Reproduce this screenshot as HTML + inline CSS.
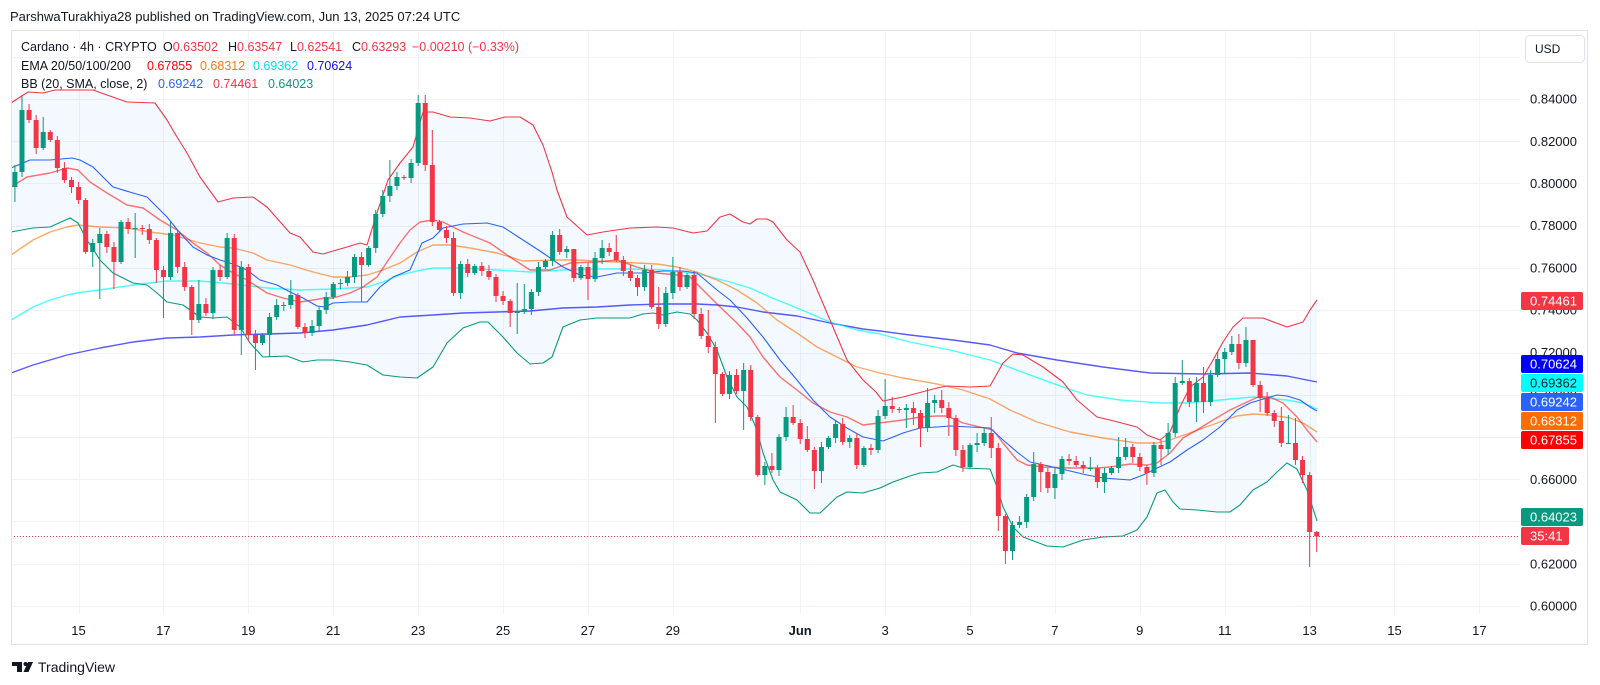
<!DOCTYPE html>
<html><head><meta charset="utf-8">
<style>
html,body{margin:0;padding:0;background:#fff;}
body{width:1600px;height:685px;overflow:hidden;}
svg{display:block;font-family:"Liberation Sans",sans-serif;}
</style></head>
<body>
<svg id="c" width="1600" height="685" viewBox="0 0 1600 685" xmlns="http://www.w3.org/2000/svg">
<rect x="0" y="0" width="1600" height="685" fill="#ffffff"/>
<text x="10" y="21" font-size="13" fill="#131722">ParshwaTurakhiya28 published on TradingView.com, Jun 13, 2025 07:24 UTC</text>
<g id="grid"></g>
<g id="fill"></g>
<g id="lines"></g>
<g id="candles"></g>
<line x1="11" y1="536.5" x2="1520" y2="536.5" stroke="#F23645" stroke-width="1" stroke-dasharray="1,2"/>
<rect x="11.5" y="30.5" width="1576" height="614" fill="none" stroke="#e0e3eb" stroke-width="1"/>
<g font-size="12.5" fill="#131722">
<text x="21" y="51">Cardano · 4h · CRYPTO</text>
<text x="163" y="51">O<tspan fill="#F23645">0.63502</tspan></text>
<text x="228" y="51">H<tspan fill="#F23645">0.63547</tspan></text>
<text x="290" y="51">L<tspan fill="#F23645">0.62541</tspan></text>
<text x="352" y="51">C<tspan fill="#F23645">0.63293</tspan></text>
<text x="412" y="51" fill="#F23645">−0.00210 (−0.33%)</text>
<text x="21" y="70">EMA 20/50/100/200</text>
<text x="147" y="70" fill="#FF0000">0.67855</text>
<text x="200" y="70" fill="#FF7A00">0.68312</text>
<text x="253" y="70" fill="#00E0F0">0.69362</text>
<text x="307" y="70" fill="#1010F0">0.70624</text>
<text x="21" y="88">BB (20, SMA, close, 2)</text>
<text x="158" y="88" fill="#2962FF">0.69242</text>
<text x="213" y="88" fill="#F23645">0.74461</text>
<text x="268" y="88" fill="#089981">0.64023</text>
</g>
<rect x="1525.5" y="35.5" width="59" height="27" rx="4" fill="#fff" stroke="#e0e3eb"/>
<text x="1535" y="53" font-size="12" fill="#131722">USD</text>
<g id="axis" font-size="13" fill="#131722"></g>
<g id="tags" font-size="13"></g>
<g id="time" font-size="13" fill="#131722" text-anchor="middle"></g>
<g fill="#131722">
<rect x="12" y="662" width="10" height="4"/>
<rect x="17" y="662" width="5" height="10"/>
<circle cx="25.5" cy="664" r="2"/>
<polygon points="28,662 33,662 28.5,672 23.5,672"/>
</g>
<text x="38" y="672" font-size="14" fill="#131722">TradingView</text>
</svg>
<script>
(function(){
var NS="http://www.w3.org/2000/svg";
function Y(p){return 99+(0.84-p)*2112.5;}
var g=document.getElementById('grid'),s='';
// horizontal grid
for(var k=0;k<=13;k++){var p=0.86-k*0.02;var y=Y(p);s+='<line x1="11" x2="1520" y1="'+(Math.round(y)+0.5)+'" y2="'+(Math.round(y)+0.5)+'" stroke="#f0f3fa" stroke-width="1"/>';}
var days=[15,17,19,21,23,25,27,29,32,34,36,38,40,42,44,46,48];
var labs=["15","17","19","21","23","25","27","29","Jun","3","5","7","9","11","13","15","17"];
var ts='';
for(var i=0;i<days.length;i++){var x=78.5+(days[i]-15)*42.45;var xr=Math.round(x)+0.5;
s+='<line x1="'+xr+'" x2="'+xr+'" y1="31" y2="614" stroke="#f0f3fa" stroke-width="1"/>';
ts+='<text x="'+x.toFixed(1)+'" y="635"'+(labs[i]=="Jun"?' font-weight="bold"':'')+'>'+labs[i]+'</text>';}
g.innerHTML=s;
document.getElementById('time').innerHTML=ts;
// axis labels
var as='';
for(var k=0;k<=12;k++){var p=0.84-k*0.02;var y=Y(p);as+='<text x="1530" y="'+(y+4.5).toFixed(1)+'">'+p.toFixed(5)+'</text>';}
document.getElementById('axis').innerHTML=as;
var tags=[[292,"#F23645","#fff","0.74461",62],[355,"#0000FF","#fff","0.70624",62],[374,"#00FFFF","#131722","0.69362",62],[393,"#2962FF","#fff","0.69242",62],[412,"#FF6D00","#fff","0.68312",62],[431,"#FF0000","#fff","0.67855",62],[508,"#089981","#fff","0.64023",62],[527,"#F23645","#fff","35:41",48]];
var tg='';
tags.forEach(function(t){tg+='<rect x="1521" y="'+t[0]+'" width="'+t[4]+'" height="18" rx="2" fill="'+t[1]+'"/><text x="1530" y="'+(t[0]+13.5)+'" fill="'+t[2]+'">'+t[3]+'</text>';});
document.getElementById('tags').innerHTML=tg;

function pts(a){return a.map(function(q){return q[0]+','+q[1];}).join(' ');}
var bbU=[[11,103],[28,92],[43,93],[55,90],[73,90],[93,90],[107,95],[127,102],[155,103],[167,120],[177,137],[187,153],[200,177],[218,202],[233,198],[253,197],[267,207],[290,233],[300,237],[313,252],[323,254],[333,251],[347,247],[360,243],[367,245],[377,213],[388,180],[400,163],[413,147],[423,112],[433,112],[450,117],[470,118],[490,121],[505,117],[520,117],[533,125],[543,145],[552,172],[557,190],[567,217],[587,235],[603,232],[630,228],[657,227],[673,228],[693,233],[707,231],[720,217],[730,214],[743,222],[750,224],[757,219],[767,219],[773,222],[787,240],[800,252],[813,280],[830,320],[847,360],[863,380],[876,392],[883,401],[903,397],[937,388],[947,386],[970,387],[990,386],[1003,363],[1013,354],[1023,355],[1043,367],[1063,382],[1077,400],[1097,417],[1110,420],[1137,427],[1147,435],[1160,440],[1170,432],[1180,407],[1190,387],[1203,377],[1213,360],[1223,342],[1233,327],[1243,318],[1263,318],[1287,327],[1303,322],[1310,310],[1317,300]];
var bbL=[[11,232],[33,228],[50,227],[70,218],[78,223],[87,240],[100,260],[113,273],[133,283],[147,285],[157,293],[167,302],[183,305],[200,317],[213,318],[227,317],[240,327],[250,343],[263,357],[287,356],[303,362],[317,360],[333,360],[350,362],[367,365],[383,375],[400,377],[417,378],[433,367],[447,343],[463,328],[480,322],[488,322],[503,337],[517,353],[530,364],[543,363],[552,357],[563,327],[580,320],[597,318],[630,318],[643,314],[653,313],[663,315],[677,312],[690,314],[697,320],[707,333],[717,350],[727,377],[737,397],[747,407],[757,430],[763,453],[773,480],[780,492],[797,500],[810,513],[820,513],[837,497],[847,492],[863,493],[880,488],[893,482],[910,476],[920,473],[937,472],[953,465],[963,468],[990,469],[997,487],[1003,507],[1013,527],[1023,537],[1047,546],[1063,547],[1083,540],[1103,537],[1123,536],[1137,530],[1147,517],[1157,493],[1165,490],[1173,502],[1180,509],[1197,510],[1217,512],[1230,512],[1240,505],[1253,490],[1267,482],[1277,472],[1287,463],[1297,469],[1307,490],[1317,521]];
var bbM=[[11,168],[30,160],[50,160],[72,158],[80,160],[93,167],[113,187],[133,193],[147,197],[157,207],[167,217],[180,233],[193,247],[207,255],[220,260],[233,264],[247,270],[260,280],[277,285],[290,292],[303,298],[317,306],[325,307],[333,303],[350,302],[367,302],[380,287],[393,277],[410,270],[422,243],[433,238],[443,228],[463,224],[487,223],[503,227],[523,240],[543,253],[563,267],[580,275],[597,277],[617,273],[643,273],[663,271],[683,271],[697,273],[717,290],[730,300],[747,318],[763,337],[780,360],[797,380],[813,400],[830,417],[847,428],[863,437],[883,441],[903,433],[920,428],[937,427],[950,426],[970,427],[990,428],[1003,440],[1017,452],[1030,462],[1053,467],[1070,471],[1087,475],[1103,478],[1130,480],[1143,475],[1153,470],[1170,462],[1187,450],[1203,440],[1220,427],[1237,410],[1250,403],[1260,400],[1277,395],[1287,396],[1300,400],[1310,407],[1317,411]];
var e20=[[11,187],[27,177],[50,173],[67,168],[78,170],[90,182],[107,193],[127,205],[143,208],[160,220],[177,230],[193,243],[207,253],[220,265],[233,273],[247,280],[267,293],[283,298],[300,302],[313,300],[325,298],[333,298],[350,293],[363,287],[377,277],[387,262],[400,243],[410,230],[420,222],[433,220],[443,222],[463,232],[490,243],[510,257],[530,270],[550,270],[570,263],[597,262],[617,260],[637,267],[657,273],[677,275],[690,277],[703,290],[720,307],[737,323],[750,337],[763,357],[780,377],[797,390],[813,403],[830,412],[847,417],[863,425],[887,422],[903,420],[920,417],[937,416],[947,416],[963,423],[980,427],[993,430],[1003,443],[1017,460],[1027,465],[1043,467],[1070,468],[1097,468],[1110,467],[1130,464],[1147,465],[1157,463],[1170,453],[1183,438],[1197,430],[1213,420],[1230,410],[1247,402],[1258,397],[1270,397],[1283,403],[1297,417],[1307,430],[1317,442]];
var e50=[[11,255],[33,240],[50,232],[67,227],[78,225],[100,227],[127,228],[150,232],[173,235],[200,243],[220,247],[233,248],[253,253],[267,260],[290,265],[313,272],[333,277],[350,277],[367,275],[383,270],[400,263],[417,252],[433,245],[450,245],[470,248],[497,253],[523,261],[557,260],[577,260],[597,261],[617,262],[637,263],[657,264],[677,267],[697,272],[717,280],[737,290],[757,303],[777,320],[797,333],[817,347],[837,357],[857,367],[880,373],[903,378],[937,384],[963,390],[990,399],[1010,410],[1037,422],[1070,432],[1103,438],[1137,443],[1157,443],[1170,440],[1187,434],[1203,428],[1220,422],[1237,416],[1253,414],[1270,415],[1290,418],[1303,423],[1317,432]];
var e100=[[11,320],[33,307],[50,300],[67,295],[83,292],[100,290],[133,285],[150,283],[167,281],[200,281],[233,284],[267,288],[300,290],[333,289],[367,287],[383,282],[400,275],[417,271],[433,268],[463,268],[497,270],[530,272],[563,270],[597,269],[630,269],[663,270],[683,272],[703,275],[730,282],[750,288],[770,297],[797,308],[830,322],[857,330],[880,334],[910,342],[950,350],[990,360],[1030,375],[1063,387],[1087,395],[1120,400],[1160,403],[1187,403],[1220,400],[1253,397],[1287,400],[1303,403],[1317,409]];
var e200=[[11,373],[33,365],[67,355],[100,348],[133,342],[167,338],[200,337],[233,335],[267,334],[300,333],[333,330],[367,325],[400,317],[433,315],[463,313],[497,312],[530,311],[563,308],[597,307],[630,305],[663,304],[697,304],[717,305],[737,307],[763,312],[797,316],[830,323],[863,329],[880,331],[910,335],[953,340],[990,345],[1017,353],[1057,360],[1103,367],[1150,373],[1203,374],[1250,373],[1287,376],[1317,382]];
var poly=bbU.concat(bbL.slice().reverse());
document.getElementById('fill').innerHTML='<polygon points="'+pts(poly)+'" fill="#2196F3" fill-opacity="0.055"/>';
var ls='';
function pl(a,c,o,w){ls+='<polyline points="'+pts(a)+'" fill="none" stroke="'+c+'" stroke-opacity="'+o+'" stroke-width="'+w+'" stroke-linejoin="round"/>';}
pl(e200,'#0000FF',0.65,1.4);
pl(e100,'#00FFFF',0.7,1.4);
pl(e50,'#FF6D00',0.6,1.4);
pl(e20,'#FF0000',0.55,1.4);
pl(bbU,'#F23645',1,1.1);
pl(bbL,'#089981',1,1.1);
pl(bbM,'#2962FF',1,1.1);
document.getElementById('lines').innerHTML=ls;

var D=[[172,165,202],[110,95],[120],[148,115],[132,117,150],[140],[168],[180],[187],[200],
[252],[243,null,267],[234,null,299],[247],[262,null,289],[222],[229],[228,213,258],[229],[240],
[270,null,283],[277,null,318],[233,222],[267],[287],[320,null,335],[304,280,323],[313],[270],[277],
[238,233],[330],[267,null,355],[335],[343,null,370],[335],[317,null,357],[305],[305],[295,280],
[327],[333],[326],[310],[297],[284],[283],[277],[257],[265,null,302],
[248],[214],[196],[186,160],[177],[178],[163],[103,95],[165,95],[222,130],
[230],[238],[293],[264],[273],[266],[271],[277],[296],[301],
[313,null,327],[311,283,334],[309,284],[292],[267],[261],[235],[252],[249],[278,250],
[267],[279,null,300],[258],[248,240],[252],[260,235],[271],[278],[287,null,296],[270],
[307,265],[324,287],[293],[272,257],[287],[275],[314],[336],[347,310],[374,null,423],
[394],[375],[391],[370,363,430],[417],[475],[466,null,485],[470,453],[437],[417,407],
[423,405],[439],[450,426,452],[471,null,489],[447,null,483],[438],[424],[442],[438],[465],
[448],[450],[416],[406,379,419],[409,397],[410,null,413],[408,null,428],[413,null,425],[428,null,447],[403,388],
[400,395,413],[408,390],[418,null,436],[450],[467,null,472],[445],[443,433,452],[433],[448,417,458],[516,null,531],
[551,null,564],[525,null,560],[522],[497],[464,452],[472,null,492],[488],[474,null,499],[459,456],[461],
[465,456],[468],[468,457],[482],[473,null,493],[468],[457,437],[447,438],[457],[467,453],
[473,null,485],[445,442,477],[449,440,465],[433,423],[383,377],[381,360],[402,378,407],[383,null,422],[402,367,413],[375],
[359,352],[352,null,373],[344,336],[363,334],[340,327],[385,340],[398,null,412],[413],[421],[443,407],
[443,415,443],[460,418],[475,456,483],[532,null,567],[536.4,531,552]];
var cs='',prev=187;
for(var i=0;i<D.length;i++){
 var d=D[i],c=d[0],o=prev;
 if(i==D.length-1)o=532;
 var x=14.9+i*7.075;
 var top=Math.min(o,c),bot=Math.max(o,c);
 var hi=(d[1]!=null&&d[1]!==undefined)?d[1]:top-(2+(i*37)%5);
 var lo=(d[2]!=null&&d[2]!==undefined)?d[2]:bot+(2+(i*53)%5);
 var up=c<=o;
 var col=up?'#089981':'#F23645';
 var h=Math.max(1,bot-top);
 cs+='<line x1="'+x.toFixed(2)+'" x2="'+x.toFixed(2)+'" y1="'+Math.min(hi,top)+'" y2="'+Math.max(lo,bot)+'" stroke="'+col+'" stroke-width="1"/>';
 cs+='<rect x="'+(x-2.5).toFixed(2)+'" y="'+top+'" width="5" height="'+h+'" fill="'+col+'"/>';
 prev=c;
}
document.getElementById('candles').innerHTML=cs;
})();
</script>
</body></html>
